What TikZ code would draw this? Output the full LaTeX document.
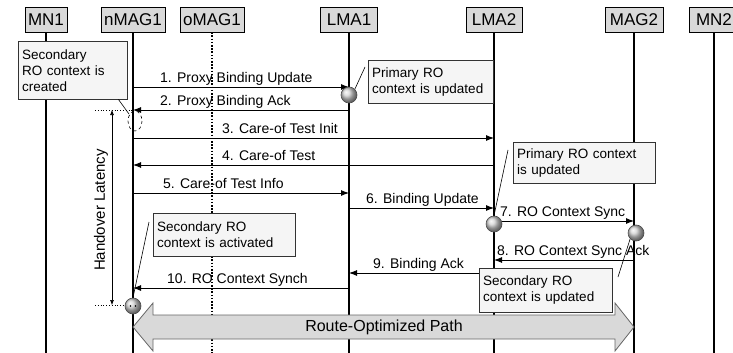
\documentclass[tikz,border=0pt]{standalone}
\usepackage{fontspec}
\setmainfont{Liberation Sans}
\usepackage{tikz}
\usetikzlibrary{arrows.meta, positioning}
\tikzset{>=Latex}

\begin{document}
\begin{tikzpicture}[x=1pt, y=-1pt,
	head/.style={draw, fill=gray!30, minimum height=25, inner xsep=3pt, font=\fontsize{17}{17}\selectfont},
	life/.style={line width=2.2pt},
	oldlife/.style={line width=2.2pt, dash pattern=on 1.6pt off 1.6pt},
	msg/.style={line width=0.9pt, -{Latex[length=8pt,width=6pt]}},
	lbl/.style={anchor=base west, inner sep=0pt, font=\fontsize{14}{16}\selectfont},
	note/.style={draw=black!80, fill=gray!8, anchor=north west, align=left, inner xsep=4pt, inner ysep=3pt,
		font=\fontsize{13.5}{16}\selectfont, execute at begin node=\hyphenpenalty10000\relax},
	ball/.style={circle, shading=ball, ball color=gray!35, draw=black!70, line width=0.6pt, minimum size=16pt, inner sep=0pt},
	conn/.style={line width=0.6pt}
	]
	\useasboundingbox (0,0) rectangle (733,353);
	% entities
	\node[head, minimum width=42] (mn1) at (46,19.5) {MN1};
	\node[head, minimum width=64] (nmag1) at (133,19.5) {nMAG1};
	\node[head, minimum width=64] (omag1) at (212,19.5) {oMAG1};
	\node[head, minimum width=57] (lma1) at (349,19.5) {LMA1};
	\node[head, minimum width=56] (lma2) at (494,19.5) {LMA2};
	\node[head, minimum width=58] (mag2) at (634,19.5) {MAG2};
	\node[head, minimum width=50] (mn2) at (714,19.5) {MN2};
	% lifelines
	\foreach \n in {mn1, nmag1, lma1, lma2, mag2, mn2}
		\draw[life] (\n.south) -- (\n |- 0,353);
	\draw[oldlife] (omag1.south) -- (omag1 |- 0,353);
	% messages
	\draw[msg] (nmag1 |- 0,87) -- (lma1 |- 0,87);
	\node[lbl] (l1) at (160,82) {1. Proxy Binding Update};
	\draw[msg] (lma1 |- 0,110) -- (nmag1 |- 0,110);
	\node[lbl] (l2) at (160,105) {2. Proxy Binding Ack};
	\draw[msg] (nmag1 |- 0,138) -- (lma2 |- 0,138);
	\node[lbl] (l3) at (222,133) {3. Care-of Test Init};
	\draw[msg] (lma2 |- 0,165) -- (nmag1 |- 0,165);
	\node[lbl] (l4) at (222,160) {4. Care-of Test};
	\draw[msg] (nmag1 |- 0,193) -- (lma1 |- 0,193);
	\node[lbl] (l5) at (163,188) {5. Care-of Test Info};
	\draw[msg] (lma1 |- 0,208) -- (lma2 |- 0,208);
	\node[lbl] (l6) at (366,203) {6. Binding Update};
	\draw[msg] (lma2 |- 0,221) -- (mag2 |- 0,221);
	\node[lbl] (l7) at (500,216) {7. RO Context Sync};
	\draw[msg] (mag2 |- 0,260) -- (lma2 |- 0,260);
	\node[lbl] (l8) at (497,255) {8. RO Context Sync Ack};
	\draw[msg] (lma2 |- 0,273) -- (lma1 |- 0,273);
	\node[lbl] (l9) at (373,268) {9. Binding Ack};
	\draw[msg] (lma1 |- 0,288) -- (nmag1 |- 0,288);
	\node[lbl] (l10) at (167,283) {10. RO Context Synch};
	% notes
	\node[note, text width=101, minimum height=58] (n1) at (18,41) {Secondary\\RO context is\\created};
	\node[note, text width=117, minimum height=43] (n2) at (368,60) {Primary RO\\context is updated};
	\node[note, text width=134, minimum height=41] (n3) at (513,142) {Primary RO context\\is updated};
	\node[note, text width=134, minimum height=43] (n4) at (153,213) {Secondary RO\\context is activated};
	\node[note, text width=125, minimum height=44] (n5) at (479,268) {Secondary RO\\context is updated};
	% route-optimized path
	\draw[fill=gray!30, draw=black!60, line width=0.8pt] (nmag1 |- 0,327) -- (153,303) -- (153,315) -- (615,315) -- (615,303)
		-- (mag2 |- 0,327) -- (615,351) -- (615,339) -- (153,339) -- (153,351) -- cycle;
	\node[font=\fontsize{16}{16}\selectfont] (rop) at (384,327) {Route-Optimized Path};
	% handover latency
	\coordinate (ht) at (112,110);
	\coordinate (hb) at (112,305);
	\draw[dotted, line width=0.8pt] (95,110) -- (nmag1 |- 0,110);
	\draw[dotted, line width=0.8pt] (95,305) -- (nmag1 |- 0,305);
	\draw[conn, {Latex[length=5pt,width=4pt]}-{Latex[length=5pt,width=4pt]}] (ht) -- (hb);
	\node[rotate=90, font=\fontsize{15}{15}\selectfont] (hl) at (101,210) {Handover Latency};
	\coordinate (e1) at (135,121);
	\draw[dashed, conn] (e1) ellipse (7 and 10);
	\draw[conn] (n1.south east) ++(-9,0) coordinate (c0) -- (129,114);
	% context states
	\node[ball] (b1) at (lma1 |- 0,95) {};
	\node[ball] (b2) at (lma2 |- 0,224) {};
	\node[ball] (b3) at ([xshift=2]mag2 |- 0,233) {};
	\node[ball] (b4) at (nmag1 |- 0,306) {};
	\fill (130.5,306) circle (0.9) (135.5,306) circle (0.9);
	\coordinate (c1) at (365,67);
	\coordinate (c2) at (508,150);
	\coordinate (c3) at (618,277);
	\coordinate (c4) at (149,222);
	\draw[conn] (b1.north east) -- (c1);
	\draw[conn] (b2.north) -- (c2);
	\draw[conn] (b3.south west) -- (c3);
	\draw[conn] (b4.north) -- (c4);
\end{tikzpicture}
\end{document}
